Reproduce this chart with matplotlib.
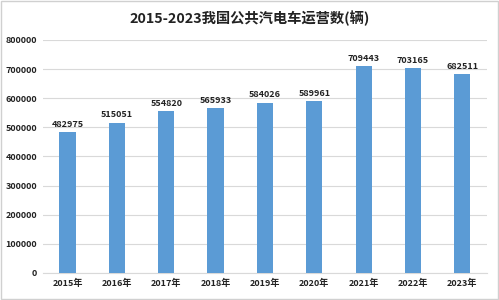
import matplotlib.pyplot as plt
import numpy as np

plt.rcParams['font.family'] = ['Noto Sans CJK SC', 'DejaVu Sans']

years = ["2015年", "2016年", "2017年", "2018年", "2019年", "2020年", "2021年", "2022年", "2023年"]
counts = [482975, 515051, 554820, 565933, 584026, 589961, 709443, 703165, 682511]
yticks = [0, 100000, 200000, 300000, 400000, 500000, 600000, 700000, 800000]

fig = plt.figure(figsize=(4.99, 3.0), dpi=100)
ax = fig.add_axes([0.086, 0.09, 0.89, 0.777])

x = np.arange(len(years))
ax.bar(x, counts, width=0.33, color="#5B9BD5", zorder=3)
for xi, v in zip(x, counts):
    ax.text(xi, v + 12000, str(v), ha="center", va="bottom", fontsize=6.5,
            color="#222222", fontweight="bold")

ax.set_xlim(-0.5, len(years) - 0.5)
ax.set_ylim(0, 800000)
ax.set_yticks(yticks)
ax.set_yticklabels([str(t) for t in yticks], fontsize=6.5, fontweight="bold", color="#222222")
ax.set_xticks(x)
ax.set_xticklabels(years, fontsize=6.5, fontweight="bold", color="#222222")
ax.grid(axis="y", color="#d9d9d9", linewidth=0.8, zorder=0)
for s in ["top", "right", "left"]:
    ax.spines[s].set_visible(False)
ax.spines["bottom"].set_color("#d9d9d9")
ax.tick_params(length=0, pad=4)

fig.text(0.5, 0.94, "2015-2023我国公共汽电车运营数(辆)", ha="center", va="center",
         fontsize=10.3, fontweight="bold", color="#222222")
fig.patches.append(plt.Rectangle((0.002, 0.003), 0.996, 0.994, transform=fig.transFigure,
                                 fill=False, edgecolor="#d0d0d0", linewidth=1))

fig.savefig("out.png", dpi=100)
